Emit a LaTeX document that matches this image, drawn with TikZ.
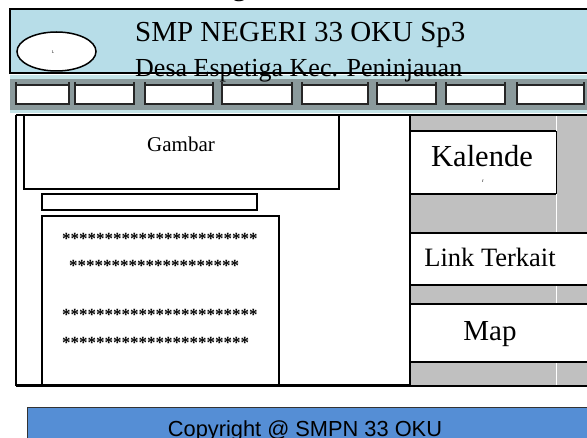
\documentclass[tikz,border=0pt]{standalone}
\usepackage{fontspec}
\setmainfont{Liberation Serif}
\newfontfamily\arialfont{Liberation Sans}
\usepackage{xcolor}
\definecolor{headblue}{RGB}{183,221,232}
\definecolor{navgray}{RGB}{139,154,156}
\definecolor{navcyan}{RGB}{196,228,232}
\definecolor{sidegray}{RGB}{192,192,192}
\definecolor{footblue}{RGB}{85,142,213}
\tikzset{
  navbtn/.style={draw=black!85, line width=1.6pt, fill=white},
  thickline/.style={line width=2pt},
  boxtext/.style={anchor=base, inner sep=0pt},
  stars/.style={anchor=base west, inner sep=0pt, font=\bfseries\fontsize{17}{17}\selectfont},
}

\begin{document}
\begin{tikzpicture}[x=1pt,y=-1pt]
\useasboundingbox (0,0) rectangle (587,438);
\begin{scope}
\clip (0,0) rectangle (587,438);

% title above, cut off
\node[anchor=base west, inner sep=0pt, font=\fontsize{29}{29}\selectfont] (toptitle) at (232,-4) {g};

% header
\draw[fill=headblue, line width=1.3pt] (10,9) rectangle (600,73);
\draw[fill=white, line width=1.5pt] (56.5,51.5) ellipse [x radius=39.5, y radius=19.5];
\node[inner sep=0pt, font=\fontsize{4}{4}\selectfont] (logo) at (53,52) {L};

% menu bar
\fill[navgray] (10,75) rectangle (600,113);
\fill[navcyan] (10,75) rectangle (600,79);
\fill[navcyan] (10,110) rectangle (600,113);

\filldraw[navbtn] (16,85) rectangle (69,104);
\draw[navbtn] (16,82) -- (16,85) (69,82) -- (69,85);
\filldraw[navbtn] (75,85) rectangle (134,104);
\draw[navbtn] (75,82) -- (75,85) (134,82) -- (134,85);
\filldraw[navbtn] (145,85) rectangle (213,104);
\draw[navbtn] (145,82) -- (145,85) (213,82) -- (213,85);
\filldraw[navbtn] (222,85) rectangle (292,104);
\draw[navbtn] (222,82) -- (222,85) (292,82) -- (292,85);
\filldraw[navbtn] (302,85) rectangle (368,104);
\draw[navbtn] (302,82) -- (302,85) (368,82) -- (368,85);
\filldraw[navbtn] (377,85) rectangle (436,104);
\draw[navbtn] (377,82) -- (377,85) (436,82) -- (436,85);
\filldraw[navbtn] (446,85) rectangle (505,104);
\draw[navbtn] (446,82) -- (446,85) (505,82) -- (505,85);
\filldraw[navbtn] (517,85) rectangle (584,104);
\draw[navbtn] (517,82) -- (517,85) (584,82) -- (584,85);

% header texts
\node[anchor=base west, inner sep=0pt, font=\fontsize{29}{29}\selectfont] (school) at (135,42) {SMP NEGERI 33 OKU Sp3};
\node[anchor=base west, inner sep=0pt, font=\fontsize{26}{26}\selectfont] (address) at (135,77) {Desa Espetiga Kec. Peninjauan};

% sidebar
\fill[sidegray] (411,115) rectangle (587,386);
\draw[white, line width=1pt] (556,115) -- (556,386);
\fill[white] (411,131) rectangle (556,194);
\draw[thickline] (411,131) -- (556,131) (411,194) -- (556,194);
\draw[line width=1pt] (556,131) -- (556,194);
\fill[white] (411,233) rectangle (587,285);
\draw[thickline] (411,233) -- (587,233) (411,285) -- (587,285);
\fill[white] (411,304) rectangle (587,362);
\draw[thickline] (411,304) -- (587,304) (411,362) -- (587,362);

% main frame
\draw[thickline] (16,115) -- (587,115);
\draw[thickline] (16,115) -- (16,386);
\draw[thickline] (410,115) -- (410,386);
\draw[line width=3pt] (16,386) -- (411,386);
\draw[thickline] (411,386) -- (587,386);

% content
\draw[thickline, fill=white] (24,115) rectangle (339,189);
\draw[thickline] (42,194) rectangle (257,210);
\draw[thickline] (42,216) rectangle (279,386);

% labels
\node[boxtext, font=\fontsize{21}{21}\selectfont] (gambar) at (181,152) {Gambar};
\node[boxtext, font=\fontsize{30.5}{30.5}\selectfont] (kalender) at (482,167) {Kalende};
\node[boxtext, font=\fontsize{5}{5}\selectfont] (kalenderR) at (483,183) {r};
\node[boxtext, font=\fontsize{26.5}{26.5}\selectfont] (link) at (490,267) {Link Terkait};
\node[boxtext, font=\fontsize{29}{29}\selectfont] (map) at (490,341) {Map};

\node[stars] (stars1) at (62,245) {***********************};
\node[stars] (stars2) at (69,272) {********************};
\node[stars] (stars3) at (62,321) {***********************};
\node[stars] (stars4) at (62,349) {**********************};

% footer
\draw[fill=footblue, draw=black!80, line width=0.8pt] (27,407) rectangle (600,445);
\node[boxtext, font=\arialfont\fontsize{21.8}{22}\selectfont] (copyright) at (305,437) {Copyright @ SMPN 33 OKU};
\end{scope}
\end{tikzpicture}
\end{document}
